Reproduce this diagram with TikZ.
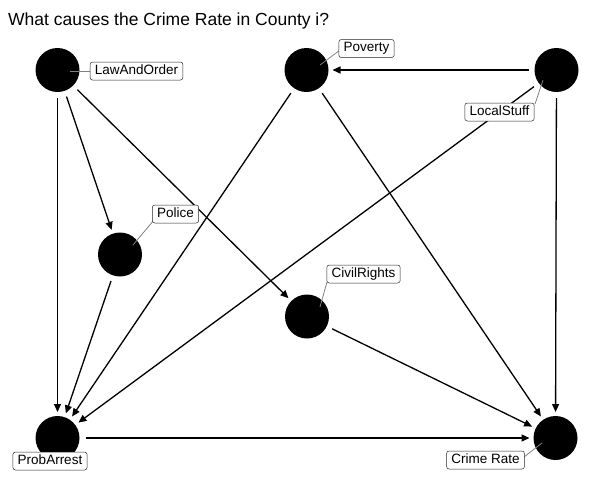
\documentclass[tikz,border=0pt]{standalone}
\usepackage{fontspec}
\setmainfont{Liberation Sans}
\usetikzlibrary{arrows.meta}
\begin{document}
\begin{tikzpicture}[x=1pt,y=-1pt,
  dagnode/.style={circle,fill=black,minimum size=44pt,inner sep=0pt,outer sep=0pt},
  edge/.style={line width=1.3pt,-{Triangle[length=8pt,width=7pt]},shorten <=6pt,shorten >=4pt},
  lab/.style={draw=black!85,line width=0.5pt,fill=white,rounded corners=2.5pt,font=\fontsize{13.5}{16}\selectfont,inner xsep=4.8pt,inner ysep=2.75pt,text height=9.7pt,text depth=2.8pt},
  leader/.style={draw=black!50,line width=0.8pt}]
\useasboundingbox (0,0) rectangle (589,485);
\node[anchor=base west,font=\fontsize{17.5}{20}\selectfont,inner sep=0pt] (title) at (8,25) {What causes the Crime Rate in County i?};
% nodes
\node[dagnode] (lo) at (57.5,70) {};
\node[dagnode] (pov) at (306.5,70) {};
\node[dagnode] (ls) at (556.5,70) {};
\node[dagnode] (pol) at (120,254.5) {};
\node[dagnode] (cr) at (307,316.5) {};
\node[dagnode] (pa) at (57.5,438) {};
\node[dagnode] (crime) at (555.5,438) {};
% edges
\draw[edge] (lo) -- (pa);
\draw[edge] (lo) -- (pol);
\draw[edge] (lo) -- (cr);
\draw[edge] (pov) -- (pa);
\draw[edge] (pov) -- (crime);
\draw[edge] (ls) -- (pov);
\draw[edge] (ls) -- (pa);
\draw[edge] (ls) -- (crime);
\draw[edge] (pol) -- (pa);
\draw[edge] (cr) -- (crime);
\draw[edge] (pa) -- (crime);
% leader lines
\coordinate (loA) at (70,71);   \coordinate (loB) at (91,71);
\coordinate (povA) at (320,65); \coordinate (povB) at (340,50);
\coordinate (lsA) at (543,80);  \coordinate (lsB) at (535,104);
\coordinate (polA) at (133,245);\coordinate (polB) at (154,220);
\coordinate (crA) at (320,307); \coordinate (crB) at (327,282);
\coordinate (crimeA) at (542,443); \coordinate (crimeB) at (524,457);
\draw[leader] (loA) -- (loB);
\draw[leader] (povA) -- (povB);
\draw[leader] (lsA) -- (lsB);
\draw[leader] (polA) -- (polB);
\draw[leader] (crA) -- (crB);
\draw[leader] (crimeA) -- (crimeB);
% labels
\node[lab] (loL) at (136.5,71) {LawAndOrder};
\node[lab] (povL) at (366.5,48.5) {Poverty};
\node[lab] (lsL) at (499.5,112) {LocalStuff};
\node[lab] (polL) at (175.5,214) {Police};
\node[lab] (crL) at (363.5,274) {CivilRights};
\node[lab] (paL) at (50,461) {ProbArrest};
\node[lab] (crimeL) at (485.5,460) {Crime Rate};
\end{tikzpicture}
\end{document}
